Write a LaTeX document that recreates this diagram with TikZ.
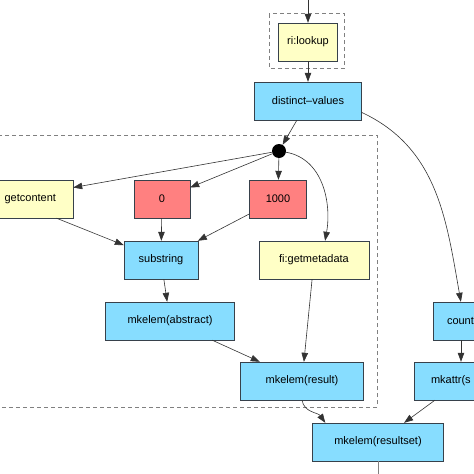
\documentclass[tikz,border=0pt]{standalone}
\usepackage{fontspec}
\setmainfont{Liberation Sans}
\usepackage{xcolor}
\usepackage{tikz}
\usetikzlibrary{shapes.geometric, arrows.meta}
\definecolor{fnyellow}{RGB}{255,255,198}
\definecolor{ctorblue}{RGB}{135,221,255}
\definecolor{litred}{RGB}{255,128,128}
\definecolor{edgegray}{RGB}{55,65,75}
\tikzstyle{builtin} = [rectangle, minimum height=38pt, text centered, draw=edgegray, fill=fnyellow]
\tikzstyle{ctor} = [rectangle, minimum height=38pt, text centered, draw=edgegray, fill=ctorblue]
\tikzstyle{literal} = [rectangle, minimum height=38pt, text centered, draw=edgegray, fill=litred]
\tikzstyle{cluster} = [draw=gray, dash pattern=on 4pt off 3pt, line width=0.8pt]
\tikzstyle{arrow} = [line width=0.6pt, draw=black!80, -{Triangle[length=9pt,width=6.5pt]}]

\begin{document}
\begin{tikzpicture}[node distance=60pt, font=\fontsize{11}{13}\selectfont]
		\useasboundingbox (0pt,0pt) rectangle (474pt,-474pt);
		\node (lookup) [builtin, minimum width=59pt] at (308pt,-42pt) {ri:lookup};
		\node (distinct) [ctor, minimum width=107pt, below of=lookup, yshift=1pt] {distinct--values};
		\node (dot) [circle, fill=black, inner sep=0pt, minimum size=14pt, below of=distinct, xshift=-29pt, yshift=10pt] {};
		\node (thousand) [literal, minimum width=57pt, below of=dot, xshift=-1pt, yshift=12pt] {1000};
		\node (zero) [literal, minimum width=56pt, left of=thousand, xshift=-56pt] {0};
		\node (getcontent) [builtin, text width=95pt, align=right, inner xsep=17pt, left of=zero, xshift=-93.5pt] {getcontent};
		\node (substring) [ctor, minimum width=74pt, below of=zero, xshift=-1pt, yshift=-1pt] {substring};
		\node (meta) [builtin, minimum width=110pt, right of=substring, xshift=93pt] {fi:getmetadata};
		\node (abstract) [ctor, minimum width=129pt, below of=substring, xshift=9pt, yshift=-1pt] {mkelem(abstract)};
		\node (result) [ctor, minimum width=123pt, below of=abstract, xshift=132pt] {mkelem(result)};
		\node (mkattr) [ctor, text width=60pt, align=left, inner xsep=17pt, right of=result, xshift=99pt] {mkattr(s};
		\node (count) [ctor, text width=60pt, align=left, inner xsep=14pt, above of=mkattr, xshift=16pt] {count};
		\node (resultset) [ctor, minimum width=131pt, below of=result, xshift=76pt, yshift=-1pt] {mkelem(resultset)};
		\coordinate (entry) at ([yshift=42pt]lookup.center);
		\coordinate (exit) at ([yshift=-40pt]resultset.south);
		\draw [cluster] ([xshift=-9pt,yshift=9pt]lookup.north west) rectangle ([xshift=7pt,yshift=-7pt]lookup.south east);
		\draw [cluster] (-20pt,-135pt) rectangle (377pt,-407pt);
		\draw [arrow] (entry) -- (lookup);
		\draw [arrow] (lookup) -- (distinct);
		\draw [arrow] (distinct) -- (dot);
		\draw [arrow] (distinct.-12) to[out=-25, in=100] (count.130);
		\draw [arrow] (dot) -- (getcontent);
		\draw [arrow] (dot) -- (zero);
		\draw [arrow] (dot) -- (thousand);
		\draw [arrow] (dot) to[out=-10, in=80] (meta.60);
		\draw [arrow] (getcontent) -- (substring);
		\draw [arrow] (zero) -- (substring);
		\draw [arrow] (thousand) -- (substring);
		\draw [arrow] (substring) -- (abstract);
		\draw [arrow] (abstract) -- (result);
		\draw [arrow] (meta) -- (result);
		\draw [arrow] ([xshift=-16pt]count.south) -- (mkattr);
		\draw [arrow] (mkattr) -- (resultset);
		\draw [arrow] (result.south) to[out=-80, in=125] ([xshift=13pt]resultset.north west);
		\draw [arrow, draw=gray] (resultset) -- (exit);
	\end{tikzpicture}
\end{document}
